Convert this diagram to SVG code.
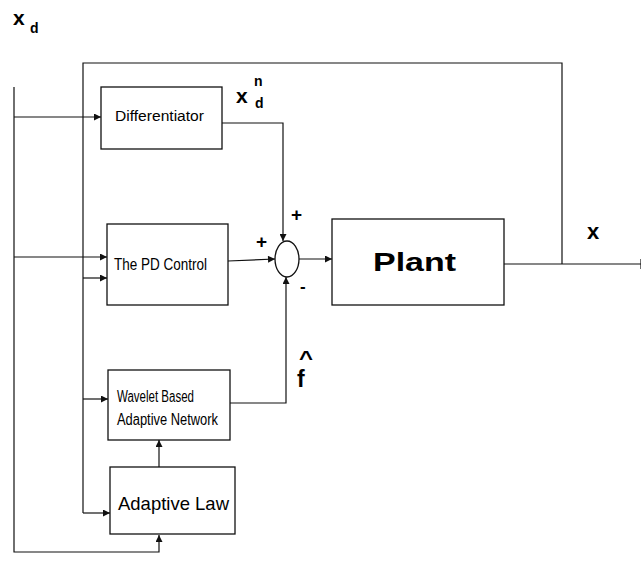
<svg xmlns="http://www.w3.org/2000/svg" width="641" height="562" viewBox="0 0 641 562">
<style>
.box{fill:#fff;stroke:#111;stroke-width:1.3}
.ln{fill:none;stroke:#111;stroke-width:1.2}
.t{font-family:"Liberation Sans",Arial,sans-serif;fill:#000}
.lab{font-family:"Liberation Sans",Arial,sans-serif;fill:#000;font-weight:bold}
</style>
<defs>
<marker id="ah" viewBox="0 0 10 10" refX="10" refY="5" markerWidth="9" markerHeight="7" markerUnits="userSpaceOnUse" orient="auto">
<path d="M0,0 L10,5 L0,10 z" fill="#111"/>
</marker>
</defs>
<rect width="641" height="562" fill="#fff"/>
<g id="connectors">
<polyline class="ln" points="14,87 14,552 159,552 159,535" marker-end="url(#ah)"/>
<polyline class="ln" points="83,513 83,63 562,63 562,264"/>
<line class="ln" x1="504" y1="264" x2="641" y2="264"/>
<line class="ln" x1="641" y1="259" x2="641" y2="269"/>
<line class="ln" x1="14" y1="117" x2="101" y2="117" marker-end="url(#ah)"/>
<line class="ln" x1="14" y1="257" x2="107" y2="257" marker-end="url(#ah)"/>
<line class="ln" x1="83" y1="278" x2="107" y2="278" marker-end="url(#ah)"/>
<line class="ln" x1="83" y1="399" x2="108" y2="399" marker-end="url(#ah)"/>
<line class="ln" x1="83" y1="513" x2="110" y2="513" marker-end="url(#ah)"/>
<polyline class="ln" points="218,123 283,123 283,241" marker-end="url(#ah)"/>
<line class="ln" x1="228" y1="261" x2="275" y2="259" marker-end="url(#ah)"/>
<polyline class="ln" points="230,403 286,403 286,277" marker-end="url(#ah)"/>
<line class="ln" x1="299" y1="259" x2="332" y2="259" marker-end="url(#ah)"/>
<line class="ln" x1="159" y1="467" x2="159" y2="440" marker-end="url(#ah)"/>
</g>
<g id="differentiator">
<rect class="box" x="101" y="87" width="121" height="62"/>
<text class="t" x="115" y="121" font-size="14" textLength="89" lengthAdjust="spacingAndGlyphs">Differentiator</text>
</g>
<g id="pd-control">
<rect class="box" x="107" y="224" width="121" height="81"/>
<text class="t" x="114" y="270" font-size="17" textLength="93" lengthAdjust="spacingAndGlyphs">The PD Control</text>
</g>
<g id="wavelet-network">
<rect class="box" x="108" y="370" width="122" height="70"/>
<text class="t" x="117" y="402" font-size="16" textLength="77" lengthAdjust="spacingAndGlyphs">Wavelet Based</text>
<text class="t" x="117" y="425" font-size="16" textLength="101" lengthAdjust="spacingAndGlyphs">Adaptive Network</text>
</g>
<g id="adaptive-law">
<rect class="box" x="110" y="467" width="125" height="67"/>
<text class="t" x="118" y="510" font-size="19" textLength="111" lengthAdjust="spacingAndGlyphs">Adaptive Law</text>
</g>
<g id="plant">
<rect class="box" x="332" y="219" width="172" height="86"/>
<text class="lab" x="373" y="271" font-size="25" textLength="83" lengthAdjust="spacingAndGlyphs">Plant</text>
</g>
<g id="sum">
<ellipse class="box" cx="287" cy="259" rx="12" ry="18"/>
<text class="lab" x="256" y="248" font-size="19">+</text>
<text class="lab" x="291" y="221" font-size="19">+</text>
<text class="lab" x="300" y="292" font-size="17">-</text>
</g>
<g id="labels">
<text class="lab" x="13" y="25" font-size="21">x</text>
<text class="lab" x="30" y="33" font-size="14">d</text>
<text class="lab" x="236" y="103" font-size="21">x</text>
<text class="lab" x="254" y="86" font-size="14">n</text>
<text class="lab" x="255" y="108" font-size="14">d</text>
<text class="lab" x="587" y="239" font-size="22">x</text>
<text class="lab" x="299" y="365" font-size="20" textLength="14" lengthAdjust="spacingAndGlyphs">^</text>
<text class="lab" x="297" y="387" font-size="23">f</text>
</g>
</svg>
